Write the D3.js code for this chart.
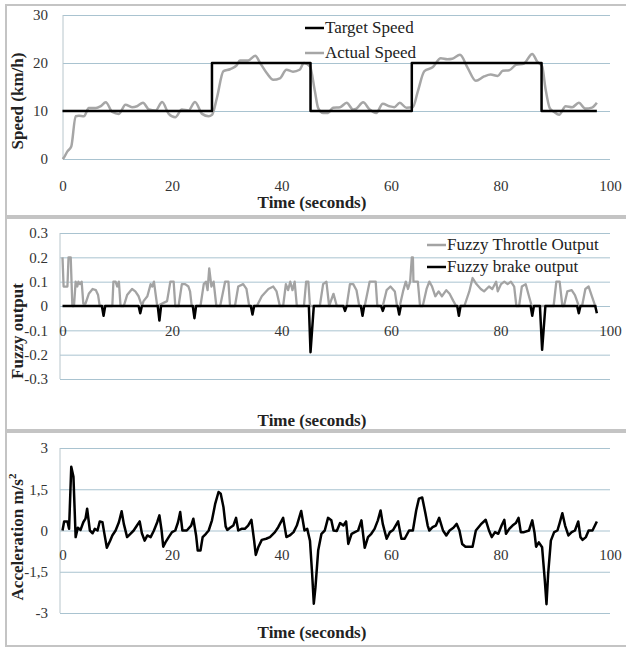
<!DOCTYPE html>
<html>
<head>
<meta charset="utf-8">
<script src="https://cdn.jsdelivr.net/npm/d3@7"></script>
<style>
  body { margin: 0; background: #fff; }
  svg text { font-family: "Liberation Serif", "Times New Roman", serif !important; fill: #222; }
</style>
</head>
<body>
<div id="chart"></div>
<script>
var W = 626, H = 647;

// x axis ticks (shared)
var timeTicks = [0, 20, 40, 60, 80, 100];

// panel 1 : speed
var speedTicks = [0, 10, 20, 30];
var speedLabels = ["0", "10", "20", "30"];
var targetSpeed = [[0,10],[27.3,10],[27.3,20],[45.3,20],[45.3,10],[63.8,10],[63.8,20],[87.5,20],[87.5,10],[97.6,10]];
var actualSpeed = [[0,0],[0.2,0.2],[0.9,1.6],[1.6,2.6],[2.4,8.9],[3.0,9.0],[3.9,8.9],[4.8,10.6],[6.1,10.6],[7.0,11.0],[7.9,11.8],
  [9.1,9.8],[10.3,9.4],[11.5,11.3],[12.7,10.8],[13.6,11.0],[14.7,11.7],[15.8,10.3],[17.0,10.1],[18.2,11.9],[19.4,9.4],
  [20.6,8.7],[21.8,10.3],[23.0,10.1],[24.2,11.9],[25.5,9.4],[26.7,8.9],[27.3,9.2],[28.2,12.7],[29.4,18.3],[30.6,18.7],
  [31.8,19.5],[32.4,20.5],[33.9,20.5],[35.2,21.5],[36.1,20.0],[37.3,17.9],[38.5,16.5],[39.7,16.8],[40.9,18.6],[42.1,18.2],
  [43.3,18.6],[44.1,20.0],[45.2,19.3],[46.1,14.1],[46.7,10.6],[47.6,9.6],[48.5,9.6],[49.4,10.7],[50.7,10.8],[51.9,11.7],
  [53.1,10.3],[53.7,10.5],[54.9,11.8],[56.1,10.3],[57.3,9.6],[58.5,11.5],[59.7,11.0],[60.6,10.8],[61.6,11.7],[62.8,10.7],
  [64.0,10.8],[64.9,14.1],[66.1,18.3],[67.6,19.1],[69.1,21.0],[70.3,20.8],[71.2,20.9],[72.6,21.7],[74.0,19.0],[75.5,16.3],
  [77.0,17.2],[78.2,17.6],[79.5,17.3],[80.4,18.4],[81.6,18.5],[82.8,19.6],[84.3,19.9],[85.8,21.9],[86.7,20.3],[87.6,19.3],
  [88.2,14.8],[89.0,10.6],[89.8,9.8],[90.7,9.2],[91.9,11.0],[93.1,10.8],[94.3,11.7],[95.5,10.5],[96.7,10.7],[97.6,11.7]];

// panel 2 : fuzzy outputs
var fuzzyTicks = [-0.3, -0.2, -0.1, 0, 0.1, 0.2, 0.3];
var fuzzyLabels = ["-0.3", "-0.2", "-0.1", "0", "0.1", "0.2", "0.3"];
var throttle = [[0,0.2],[0.2,0.08],[0.9,0.08],[1.1,0.2],[1.5,0.2],[1.8,0],[2.1,0],[2.4,0.1],[2.7,0.08],[2.9,0.1],[3.2,0.09],
  [3.5,0.1],[3.8,0.01],[4.2,0.01],[4.8,0.05],[5.5,0.07],[6.1,0.065],[6.5,0.045],[6.8,0],[9.1,0],[9.3,0.1],[9.7,0.1],
  [10.0,0.08],[10.3,0.1],[10.6,0],[11.2,0],[11.8,0.045],[12.7,0.07],[13.3,0.06],[13.9,0.04],[14.5,0],[14.8,0.02],
  [15.5,0.04],[16.1,0.09],[16.4,0.08],[16.7,0.1],[17.3,0],[19.1,0.02],[19.7,0.1],[20.3,0.1],[20.6,0],[21.2,0],
  [21.8,0.09],[22.4,0.09],[23.0,0.08],[23.3,0.06],[23.6,0],[25.2,0],[25.8,0.09],[26.2,0.1],[26.5,0.065],[26.8,0.155],
  [27.2,0.08],[27.6,0.1],[28.1,0],[28.8,0],[29.7,0.1],[30.3,0.1],[30.6,0],[31.5,0],[32.1,0.08],[33.0,0.09],[33.6,0.07],
  [34.1,0],[35.5,0],[36.4,0.04],[37.6,0.07],[38.5,0.08],[39.1,0.06],[39.7,0],[40.3,0],[40.8,0.09],[41.2,0.065],
  [41.6,0.1],[42.0,0.065],[42.4,0.1],[42.8,0],[44.1,0],[44.5,0.1],[44.9,0.1],[45.2,0],[47.0,0],[47.6,0.09],[48.2,0.1],
  [48.7,0],[49.4,0.045],[49.5,0.05],[50.1,0],[51.9,0],[52.5,0.09],[53.1,0.09],[53.7,0.065],[54.2,0],[55.2,0],[56.1,0.1],
  [57.2,0.1],[57.5,0],[58.5,0],[59.2,0.065],[59.9,0.08],[60.7,0.06],[61.1,0],[61.6,0],[62.2,0.06],[62.7,0.1],[63.1,0.07],
  [63.5,0.1],[63.8,0.2],[64.0,0.2],[64.1,0.1],[64.9,0.1],[65.3,0],[65.8,0],[66.5,0.07],[67.0,0.1],[67.5,0.08],[68.1,0.04],
  [68.7,0.06],[69.3,0.04],[70.1,0.065],[70.7,0.05],[71.4,0.02],[71.9,0],[73.4,0],[74.3,0.06],[74.9,0.115],[75.6,0.09],
  [76.4,0.07],[77.0,0.06],[77.9,0.08],[78.5,0.07],[79.2,0.1],[79.5,0.06],[80.1,0.09],[80.7,0.1],[81.3,0.09],[81.9,0.1],
  [82.5,0.08],[82.9,0],[83.4,0],[83.9,0.08],[84.6,0.09],[85.2,0.04],[85.7,0],[89.7,0],[90.2,0.1],[90.8,0.1],[91.3,0],
  [91.6,0],[92.2,0.06],[93.0,0.065],[93.6,0.045],[94.3,0],[94.9,0],[95.5,0.07],[96.1,0.08],[96.7,0.04],[97.3,0],[97.6,0]];
var brake = [[0,0],[7.2,0],[7.5,-0.04],[7.8,0],[13.9,0],[14.2,-0.03],[14.5,0],[17.4,0],[17.7,-0.06],[18.0,0],[23.8,0],
  [24.1,-0.05],[24.4,0],[34.4,0],[34.7,-0.035],[35.0,0],[45.0,0],[45.3,-0.19],[45.9,0],[51.3,0],[51.6,-0.02],[51.9,0],
  [54.5,0],[54.8,-0.04],[55.1,0],[58.2,0],[58.5,-0.02],[58.8,0],[61.2,0],[61.5,-0.035],[61.8,0],[72.1,0],[72.4,-0.04],
  [72.7,0],[85.5,0],[85.8,-0.04],[86.1,0],[87.2,0],[87.6,-0.18],[88.2,0],[94.0,0],[94.3,-0.03],[94.6,0],[97.3,0],[97.6,-0.03]];

// panel 3 : acceleration
var accTicks = [-3, -1.5, 0, 1.5, 3];
var accLabels = ["-3", "-1,5", "0", "1,5", "3"];
var accel = [[0,0],[0.3,0.33],[0.9,0.33],[1.2,0.06],[1.6,2.32],[2.0,1.95],[2.4,-0.24],[2.8,0.1],[3.3,0.02],[3.8,0.3],
  [4.2,0.43],[4.5,0.79],[5.0,0],[5.5,-0.1],[5.9,0.06],[6.4,0],[6.8,0.33],[7.3,0.3],[7.6,-0.06],[8.1,-0.63],[8.7,-0.37],
  [9.1,-0.18],[9.7,0],[10.3,0.3],[10.8,0.7],[11.2,0.24],[11.8,-0.24],[12.4,-0.12],[13.0,0],[13.6,0.18],[14.1,0.33],
  [14.5,-0.1],[15.0,-0.37],[15.5,-0.18],[16.1,-0.24],[16.7,0],[17.3,0.3],[17.7,0.55],[18.1,0],[18.4,-0.59],[18.8,-0.43],
  [19.4,-0.24],[20.0,-0.06],[20.6,0],[21.1,0.3],[21.5,0.67],[21.9,0],[22.7,0],[23.5,0.18],[23.9,0.43],[24.4,-0.18],
  [24.7,-0.73],[25.2,-0.73],[25.6,-0.24],[26.2,-0.12],[26.7,0],[27.3,0.37],[27.9,0.98],[28.5,1.4],[28.9,1.34],[29.4,0.85],
  [29.8,0.15],[30.1,0.02],[30.6,0.1],[31.2,0.18],[31.7,0.46],[32.1,0],[32.7,0.06],[33.3,0.06],[33.9,0.18],[34.5,0.39],
  [35.0,-0.37],[35.3,-0.89],[35.8,-0.59],[36.4,-0.34],[37.2,-0.3],[37.9,-0.24],[38.8,-0.06],[39.4,0.12],[40.3,0.46],
  [40.9,-0.24],[41.5,-0.18],[42.2,-0.06],[42.8,0.18],[43.6,0.71],[44.2,0],[44.7,0.06],[45.2,-0.37],[45.6,-1.59],
  [45.9,-2.66],[46.2,-2.07],[46.7,-0.73],[47.3,-0.12],[47.9,0],[48.5,0.46],[49.1,0.37],[49.5,0],[50.1,-0.02],[50.7,0.27],
  [51.3,0.18],[51.8,0.33],[52.2,-0.49],[52.8,-0.12],[53.4,-0.06],[54.0,0],[54.6,0.37],[55.2,-0.63],[55.8,-0.24],
  [56.4,-0.12],[57.0,0.06],[57.6,0.37],[58.1,0.73],[58.5,0.24],[59.2,-0.3],[59.8,-0.06],[60.4,0.02],[61.3,0.33],
  [61.9,-0.3],[62.5,-0.3],[63.3,0],[64.0,0],[64.6,0.73],[65.1,1.16],[65.7,1.2],[66.3,0.61],[66.7,0.18],[67.0,0],
  [67.6,0.12],[68.2,0.18],[68.8,0.46],[69.5,0],[70.1,-0.18],[70.7,0],[71.4,0.1],[72.0,0.24],[72.5,0],[73.0,-0.49],
  [73.6,-0.59],[74.9,-0.59],[75.5,0],[76.4,0.22],[77.3,0.39],[77.9,0],[78.4,-0.24],[79.0,-0.06],[79.6,-0.12],[80.2,0.18],
  [80.7,0.39],[81.0,-0.12],[81.6,0.06],[82.2,0.18],[82.8,0.27],[83.3,0.46],[83.7,-0.06],[84.3,-0.06],[85.2,0],[85.8,0.37],
  [86.2,-0.06],[86.5,-0.59],[87.0,-0.43],[87.6,-0.61],[88.1,-1.83],[88.4,-2.68],[88.7,-1.59],[89.2,-0.37],[89.8,-0.06],
  [90.4,0],[90.8,0.27],[91.3,0.63],[91.8,0.18],[92.4,-0.18],[93.0,-0.06],[93.6,0],[94.2,0.33],[94.6,-0.24],[95.0,-0.34],
  [95.6,-0.24],[96.1,0],[96.8,0],[97.6,0.33]];

var gridColor = "#a9c3d0";
var svg = d3.select("#chart").append("svg").attr("width", W).attr("height", H);

var x = d3.scaleLinear().domain([0, 100]).range([62.5, 610]);

function panel(p) {
  var g = svg.append("g");
  g.append("rect").attr("x", 6).attr("y", p.top).attr("width", 640).attr("height", p.h)
    .style("fill", "#fff").style("stroke", "#c4c4c4").style("stroke-width", 2);

  var y = d3.scaleLinear().domain(p.domain).range(p.yRange);
  var ax = g.append("g").attr("transform", "translate(" + p.left + ",0)")
    .call(d3.axisLeft(y).tickValues(p.ticks)
      .tickFormat(function(d, i) { return p.labels[i]; })
      .tickSize(-(610 - p.left)).tickPadding(p.left - 48))
    .attr("font-family", null);
  ax.select(".domain").remove();
  ax.selectAll(".tick line").style("stroke", gridColor).style("stroke-width", 1);
  ax.selectAll(".tick text").style("font-size", "15px").style("fill", "#333");

  g.append("line").attr("x1", p.left).attr("x2", p.left)
    .attr("y1", p.yRange[1]).attr("y2", p.yRange[0]).style("stroke", "#b8c6cc");

  var xa = g.append("g").attr("transform", "translate(0," + p.xLabY + ")")
    .call(d3.axisBottom(x).tickValues(timeTicks).tickSize(0).tickPadding(0))
    .attr("font-family", null);
  xa.select(".domain").remove();
  xa.selectAll(".tick text").style("font-size", "15px").style("fill", "#333");

  g.append("text").attr("x", 312).attr("y", p.titleY).attr("text-anchor", "middle")
    .style("font-size", "17px").style("font-weight", "bold").text("Time (seconds)");

  g.append("text").attr("transform", "translate(23," + p.yTitleY + ") rotate(-90)")
    .attr("text-anchor", "middle").style("font-size", "17px").style("font-weight", "bold")
    .html(p.yTitle);

  p.y = y;
  p.g = g;
  return p;
}

function drawLine(p, data, color, width, curve) {
  var line = d3.line().x(function(d) { return x(d[0]); }).y(function(d) { return p.y(d[1]); })
    .curve(curve || d3.curveLinear);
  p.g.append("path").datum(data).attr("d", line)
    .style("fill", "none").style("stroke", color).style("stroke-width", width)
    .style("stroke-linejoin", "round");
}

function legend(p, items, lx, ly, gap) {
  items.forEach(function(it, i) {
    var yy = ly + i * gap;
    p.g.append("line").attr("x1", lx).attr("x2", lx + 19).attr("y1", yy).attr("y2", yy)
      .style("stroke", it.color).style("stroke-width", 2.5);
    p.g.append("text").attr("x", lx + 20).attr("y", yy + 5).style("font-size", "17px").text(it.name);
  });
}

// panel 1
var p1 = panel({ top: 5, h: 211, left: 63, domain: [0, 30], yRange: [159, 15], ticks: speedTicks,
  labels: speedLabels, xLabY: 180, titleY: 208, yTitleY: 101, yTitle: "Speed (km/h)" });
drawLine(p1, actualSpeed, "#a6a6a6", 2.5, d3.curveMonotoneX);
drawLine(p1, targetSpeed, "#000", 2.5);
legend(p1, [{ name: "Target Speed", color: "#000" }, { name: "Actual Speed", color: "#a6a6a6" }], 305, 28, 25);

// panel 2
var p2 = panel({ top: 218, h: 212, left: 60, domain: [-0.3, 0.3], yRange: [379, 233], ticks: fuzzyTicks,
  labels: fuzzyLabels, xLabY: 325, titleY: 426, yTitleY: 331, yTitle: "Fuzzy output" });
drawLine(p2, throttle, "#a3a3a3", 2.3);
drawLine(p2, brake, "#000", 2.5);
legend(p2, [{ name: "Fuzzy Throttle Output", color: "#a3a3a3" }, { name: "Fuzzy brake output", color: "#000" }], 427, 245, 22);

// panel 3
var p3 = panel({ top: 432, h: 214, left: 60, domain: [-3, 3], yRange: [613, 448], ticks: accTicks,
  labels: accLabels, xLabY: 549, titleY: 638, yTitleY: 537, yTitle: "Acceleration m/s<tspan dy='-7' font-size='11px'>2</tspan>" });
drawLine(p3, accel, "#000", 2.5);
</script>
</body>
</html>
